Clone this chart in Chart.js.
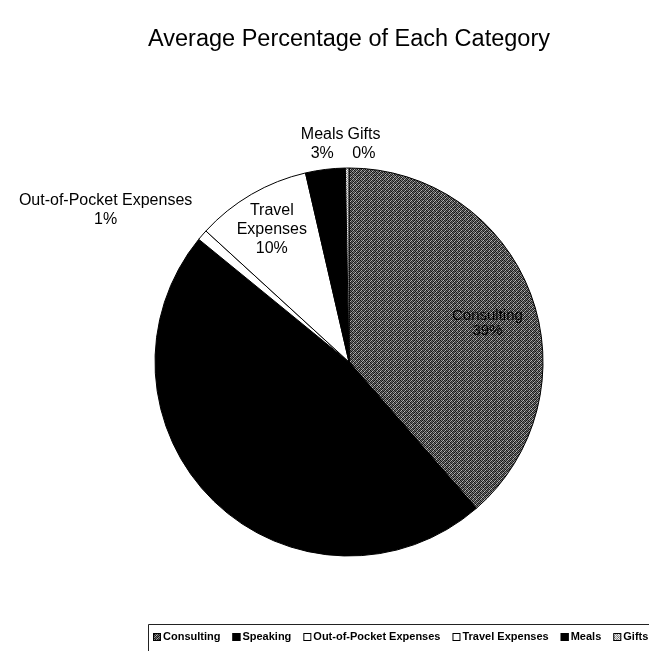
<!DOCTYPE html>
<html>
<head>
<meta charset="utf-8">
<title>Average Percentage of Each Category</title>
<script src="https://cdn.jsdelivr.net/npm/chart.js@4/dist/chart.umd.min.js"></script>
<style>
  html, body { margin: 0; padding: 0; background: #fff; overflow: hidden; }
  #chart { display: block; }
</style>
</head>
<body>
<canvas id="chart" width="649" height="651"></canvas>
<script>
// data (percent of total)
const categories = ['Consulting', 'Speaking', 'Out-of-Pocket Expenses', 'Travel Expenses', 'Meals', 'Gifts'];
const shares = [38.6, 47.3, 0.9, 9.6, 3.3, 0.3];
const percentLabels = ['39%', '47%', '1%', '10%', '3%', '0%'];
const labelLines = [['Consulting'], ['Speaking'], ['Out-of-Pocket Expenses'], ['Travel', 'Expenses'], ['Meals'], ['Gifts']];

const fontFamily = '"Liberation Sans", Arial, Helvetica, sans-serif';

// dithered grey like the scanned original
function ditherPattern(levels) {
    let c = document.createElement('canvas');
    c.width = levels[0].length;
    c.height = levels.length;
    let cx = c.getContext('2d');
    levels.forEach((row, y) => row.forEach((v, x) => {
        cx.fillStyle = `rgb(${v},${v},${v})`;
        cx.fillRect(x, y, 1, 1);
    }));
    return cx.createPattern(c, 'repeat');
}

const greyDither = ditherPattern([
    [30, 140, 55, 190, 20, 105, 45, 160],
    [95, 20, 170, 45, 125, 15, 180, 35],
    [45, 180, 15, 115, 55, 150, 30, 95],
    [160, 65, 105, 15, 190, 45, 115, 20],
    [20, 125, 45, 170, 30, 95, 15, 140],
    [105, 15, 150, 35, 115, 20, 160, 55],
    [35, 170, 30, 95, 45, 180, 35, 105],
    [140, 45, 115, 20, 150, 30, 85, 15]
]);
const lightDither = ditherPattern([
    [230, 120, 220, 160],
    [170, 240, 110, 230],
    [220, 130, 250, 150],
    [140, 210, 160, 240]
]);

const fills = [greyDither, '#000', '#fff', '#fff', '#000', lightDither];

// label placement: fraction of radius along slice middle, then a nudge
const labelRadius = [0.74, 0.55, 1.4, 0.79, 1.13, 1.13];
const labelNudge = [[4, 12], [0, 0], [-38, 26], [0, 0], [0, 0], [17, 1]];
const labelFont = [15, 16, 16, 16, 16, 16];
const labelLineHeight = [15, 19, 19, 19, 19, 19];

const sliceLabels = {
    id: 'sliceLabels',
    afterDatasetsDraw(chart) {
        const ctx = chart.ctx;
        const meta = chart.getDatasetMeta(0);
        ctx.save();
        ctx.fillStyle = '#000';
        ctx.textAlign = 'center';
        ctx.textBaseline = 'middle';
        meta.data.forEach((arc, i) => {
            const p = arc.getProps(['x', 'y', 'startAngle', 'endAngle', 'outerRadius'], true);
            const mid = (p.startAngle + p.endAngle) / 2;
            const r = p.outerRadius * labelRadius[i];
            const cx = p.x + Math.cos(mid) * r + labelNudge[i][0];
            const cy = p.y + Math.sin(mid) * r + labelNudge[i][1];
            const lines = labelLines[i].concat([percentLabels[i]]);
            const lh = labelLineHeight[i];
            ctx.font = `${labelFont[i]}px ${fontFamily}`;
            lines.forEach((t, k) => {
                ctx.fillText(t, cx, cy + (k - (lines.length - 1) / 2) * lh);
            });
        });
        ctx.restore();
    }
};

// legend strip at the bottom, boxed like the original
const boxedLegend = {
    id: 'boxedLegend',
    afterDraw(chart) {
        const ctx = chart.ctx;
        const top = 624.5;
        const midY = 637;
        ctx.save();
        ctx.strokeStyle = '#222';
        ctx.lineWidth = 1;
        ctx.beginPath();
        ctx.moveTo(148.5, chart.height);
        ctx.lineTo(148.5, top);
        ctx.lineTo(chart.width, top);
        ctx.stroke();

        ctx.font = `bold 11px ${fontFamily}`;
        ctx.textBaseline = 'middle';
        ctx.textAlign = 'left';
        let x = 153;
        chart.data.labels.forEach((label, i) => {
            ctx.fillStyle = chart.data.datasets[0].backgroundColor[i];
            ctx.fillRect(x, midY - 4, 8, 8);
            ctx.strokeStyle = '#000';
            ctx.strokeRect(x + 0.5, midY - 3.5, 7, 7);
            ctx.fillStyle = '#000';
            ctx.fillText(label, x + 10, midY);
            x += 10 + ctx.measureText(label).width + 12;
        });
        ctx.restore();
    }
};

new Chart(document.getElementById('chart'), {
    type: 'pie',
    data: {
        labels: categories,
        datasets: [{
            data: shares,
            backgroundColor: fills,
            borderColor: '#000',
            borderWidth: 1,
            radius: 194
        }]
    },
    options: {
        responsive: false,
        animation: false,
        layout: { padding: { left: 49, right: 0, top: 0, bottom: 0 } },
        plugins: {
            legend: { display: false },
            tooltip: { enabled: false },
            title: {
                display: true,
                text: 'Average Percentage of Each Category',
                color: '#000',
                font: { family: fontFamily, size: 23.5, weight: 'normal' },
                padding: { top: 25, bottom: 19.8 }
            }
        }
    },
    plugins: [sliceLabels, boxedLegend]
});
</script>
</body>
</html>
